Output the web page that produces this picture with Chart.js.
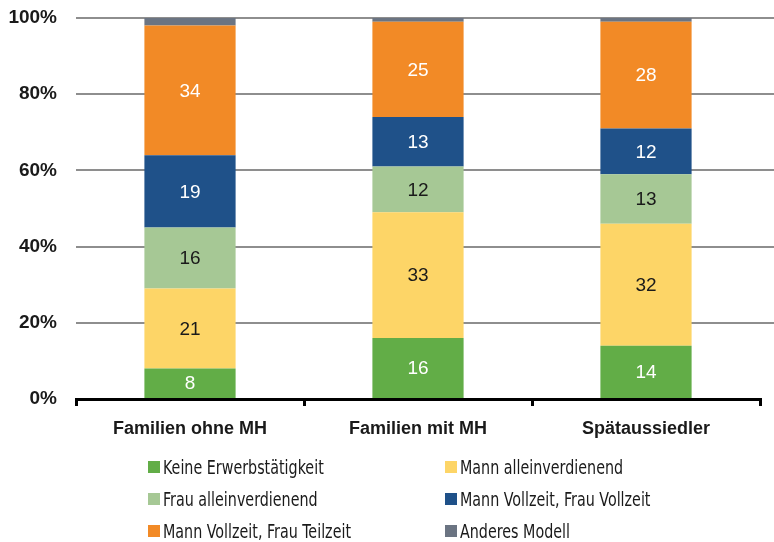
<!DOCTYPE html>
<html>
<head>
<meta charset="utf-8">
<script src="https://cdn.jsdelivr.net/npm/chart.js@4"></script>
<style>
  html, body { margin: 0; padding: 0; background: #fff; }
  #wrap { position: relative; width: 774px; height: 542px; }
  #c { position: absolute; left: 0; top: 0; }
  .leg { position: absolute; white-space: nowrap; }
  .leg span.sw { position: absolute; left: -15px; top: 5px; width: 12px; height: 12px; }
  .leg span.tx { display: inline-block; font-family: "DejaVu Sans Condensed", "DejaVu Sans", sans-serif; font-stretch: condensed; font-size: 20px; line-height: 22px; color: #1a1a1a; transform: scaleX(0.795); transform-origin: 0 50%; }
</style>
</head>
<body>
<div id="wrap">
  <canvas id="c" width="774" height="542"></canvas>
  <div id="legend"></div>
</div>
<script>
const categories = ["Familien ohne MH", "Familien mit MH", "Spätaussiedler"];
const seriesNames = ["Keine Erwerbstätigkeit", "Mann alleinverdienend", "Frau alleinverdienend", "Mann Vollzeit, Frau Vollzeit", "Mann Vollzeit, Frau Teilzeit", "Anderes Modell"];
const keineErwerb = [8, 16, 14];
const mannAllein = [21, 33, 32];
const frauAllein = [16, 12, 13];
const vollVoll = [19, 13, 12];
const vollTeil = [34, 25, 28];
const anderes = [2, 1, 1];
const yTicks = [0, 20, 40, 60, 80, 100];

const seriesValues = [keineErwerb, mannAllein, frauAllein, vollVoll, vollTeil, anderes];
const colors = ["#62ad47", "#fdd567", "#a6c895", "#1f5189", "#f28a26", "#6b7482"];
const labelColors = ["#ffffff", "#1a1a1a", "#1a1a1a", "#ffffff", "#ffffff", null];

const datasets = seriesNames.map((n, i) => ({
  label: n,
  data: seriesValues[i],
  backgroundColor: colors[i],
  borderWidth: 0,
  categoryPercentage: 1.0,
  barPercentage: 0.4
}));

const valueLabels = {
  id: 'valueLabels',
  afterDatasetsDraw(chart) {
    const ctx = chart.ctx;
    ctx.save();
    ctx.font = '19px "Liberation Sans", "Noto Sans", sans-serif';
    ctx.textAlign = 'center';
    ctx.textBaseline = 'middle';
    chart.data.datasets.forEach((ds, di) => {
      if (!labelColors[di]) return;
      const meta = chart.getDatasetMeta(di);
      meta.data.forEach((el, j) => {
        const v = ds.data[j];
        ctx.fillStyle = labelColors[di];
        ctx.fillText(String(v), el.x, (el.y + el.base) / 2 + 1);
      });
    });
    ctx.restore();
  }
};

const gridExtend = {
  id: 'gridExtend',
  beforeDatasetsDraw(chart) {
    const ctx = chart.ctx;
    const y = chart.scales.y;
    ctx.save();
    ctx.strokeStyle = '#8e8e8e';
    ctx.lineWidth = 2;
    yTicks.forEach(t => {
      if (t === 0) return;
      const py = Math.round(y.getPixelForValue(t));
      ctx.beginPath();
      ctx.moveTo(chart.chartArea.right - 1, py);
      ctx.lineTo(chart.width, py);
      ctx.stroke();
    });
    ctx.restore();
  }
};

new Chart(document.getElementById('c'), {
  type: 'bar',
  data: { labels: categories, datasets },
  options: {
    responsive: false,
    animation: false,
    layout: { padding: { left: 0, right: 14, top: 18, bottom: 0 } },
    plugins: { legend: { display: false }, tooltip: { enabled: false } },
    scales: {
      x: {
        stacked: true,
        afterFit(s) { s.height = 542 - 399; s.paddingLeft = 0; s.paddingRight = 0; },
        grid: { offset: true, drawOnChartArea: false, drawTicks: true, tickLength: 7, color: '#000', lineWidth: 3 },
        border: { display: true, color: '#000', width: 3 },
        ticks: { color: '#1a1a1a', padding: 12, font: { family: '"Liberation Sans", "Noto Sans", sans-serif', size: 18, weight: 'bold' } }
      },
      y: {
        stacked: true,
        min: 0, max: 100,
        afterFit(s) { s.width = 76; s.paddingTop = 0; s.paddingBottom = 0; },
        afterBuildTicks(s) { s.ticks = yTicks.map(v => ({ value: v })); },
        grid: { drawTicks: false, color: (c) => c.tick && c.tick.value === 0 ? 'rgba(0,0,0,0)' : '#8e8e8e', lineWidth: 2 },
        border: { display: false },
        ticks: { padding: 19, color: '#1a1a1a', callback: v => v + '%', font: { family: '"Liberation Sans", "Noto Sans", sans-serif', size: 19, weight: 'bold' } }
      }
    }
  },
  plugins: [valueLabels, gridExtend]
});

// HTML legend built from the series
const legendPos = [[163, 456], [460, 456], [163, 488], [460, 488], [163, 520], [460, 520]];
const legEl = document.getElementById('legend');
seriesNames.forEach((n, i) => {
  const d = document.createElement('div');
  d.className = 'leg';
  d.style.left = legendPos[i][0] + 'px';
  d.style.top = legendPos[i][1] + 'px';
  const sw = document.createElement('span');
  sw.className = 'sw';
  sw.style.background = colors[i];
  d.appendChild(sw);
  const tx = document.createElement('span');
  tx.className = 'tx';
  tx.textContent = n;
  d.appendChild(tx);
  legEl.appendChild(d);
});
</script>
</body>
</html>
